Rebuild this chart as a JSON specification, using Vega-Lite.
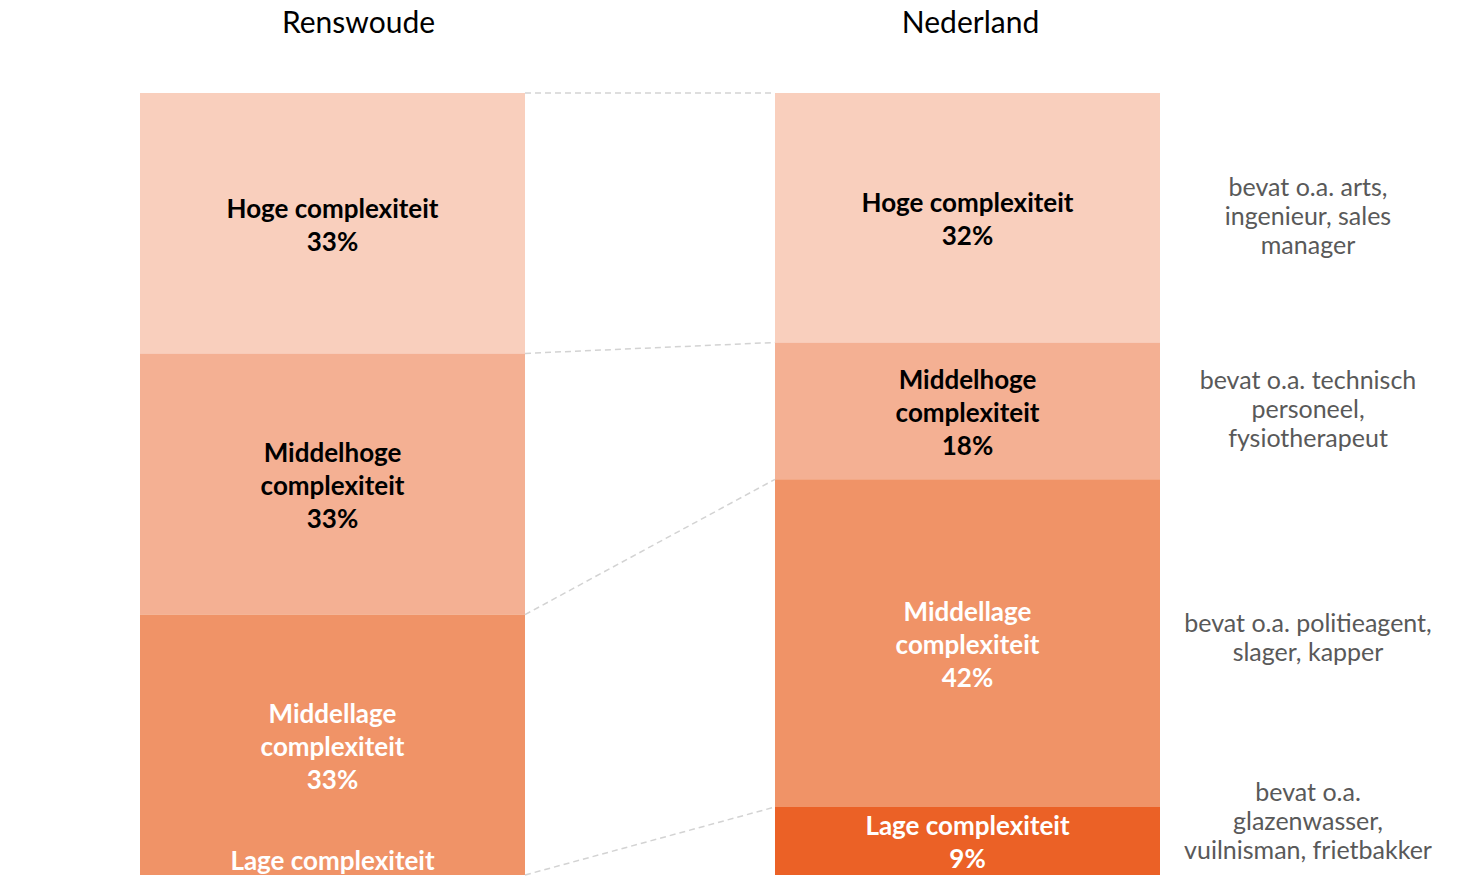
{
  "$schema": "https://vega.github.io/schema/vega-lite/v6.json",
  "autosize": {"type": "none"},
  "width": 1020,
  "height": 782,
  "padding": {"left": 140, "top": 93, "right": 298, "bottom": 1},
  "background": "white",
  "config": {"view": {"stroke": null}, "font": "Lato"},
  "datasets": {
    "grenzen": [
      {"grens": "boven", "Renswoude": 100, "Nederland": 100},
      {"grens": "Hoge/Middelhoge", "Renswoude": 66.7, "Nederland": 68.1},
      {"grens": "Middelhoge/Middellage", "Renswoude": 33.3, "Nederland": 50.6},
      {"grens": "Middellage/Lage", "Renswoude": 0, "Nederland": 8.7}
    ]
  },
  "data": {
    "values": [
      {"gebied": "Renswoude", "categorie": "Hoge complexiteit", "volgorde": 4, "aandeel": 33.3, "label": ["Hoge complexiteit", "33%"]},
      {"gebied": "Renswoude", "categorie": "Middelhoge complexiteit", "volgorde": 3, "aandeel": 33.4, "label": ["Middelhoge", "complexiteit", "33%"]},
      {"gebied": "Renswoude", "categorie": "Middellage complexiteit", "volgorde": 2, "aandeel": 33.3, "label": ["Middellage", "complexiteit", "33%"]},
      {"gebied": "Renswoude", "categorie": "Lage complexiteit", "volgorde": 1, "aandeel": 0, "label": ["Lage complexiteit", "0%"]},
      {"gebied": "Nederland", "categorie": "Hoge complexiteit", "volgorde": 4, "aandeel": 31.9, "label": ["Hoge complexiteit", "32%"], "toelichting": ["bevat o.a. arts,", "ingenieur, sales", "manager"]},
      {"gebied": "Nederland", "categorie": "Middelhoge complexiteit", "volgorde": 3, "aandeel": 17.5, "label": ["Middelhoge", "complexiteit", "18%"], "toelichting": ["bevat o.a. technisch", "personeel,", "fysiotherapeut"]},
      {"gebied": "Nederland", "categorie": "Middellage complexiteit", "volgorde": 2, "aandeel": 41.9, "label": ["Middellage", "complexiteit", "42%"], "toelichting": ["bevat o.a. politieagent,", "slager, kapper"]},
      {"gebied": "Nederland", "categorie": "Lage complexiteit", "volgorde": 1, "aandeel": 8.7, "label": ["Lage complexiteit", "9%"], "toelichting": ["bevat o.a.", "glazenwasser,", "vuilnisman, frietbakker"]}
    ]
  },
  "layer": [
    {
      "mark": {"type": "bar", "width": {"band": 1}},
      "encoding": {
        "x": {
          "field": "gebied",
          "type": "nominal",
          "scale": {"type": "band", "domain": ["Renswoude", "Nederland"], "paddingInner": 0.3937, "paddingOuter": 0},
          "axis": {
            "orient": "top", "title": null, "domain": false, "ticks": false,
            "labelFontSize": 30, "labelColor": "#000000", "labelPadding": 61,
            "labelBaseline": "alphabetic", "labelAngle": 0, "labelFont": "Lato",
            "labelOffset": {"condition": {"test": "datum.value === 'Renswoude'", "value": 26}, "value": 3}
          }
        },
        "y": {
          "field": "aandeel",
          "type": "quantitative",
          "stack": "zero",
          "scale": {"domain": [0, 100], "nice": false, "zero": true},
          "axis": null
        },
        "order": {"field": "volgorde", "type": "quantitative", "sort": "ascending"},
        "color": {
          "field": "categorie",
          "type": "nominal",
          "scale": {
            "domain": ["Hoge complexiteit", "Middelhoge complexiteit", "Middellage complexiteit", "Lage complexiteit"],
            "range": ["#F9CFBD", "#F4B093", "#F09367", "#EB6126"]
          },
          "legend": null
        }
      }
    },
    {
      "data": {"name": "grenzen"},
      "mark": {"type": "rule", "color": "#D3D3D3", "strokeWidth": 1.5, "strokeDash": [6, 4]},
      "encoding": {
        "x": {"datum": "Renswoude", "type": "nominal", "bandPosition": 1},
        "x2": {"datum": "Nederland", "bandPosition": 0},
        "y": {"field": "Renswoude", "type": "quantitative"},
        "y2": {"field": "Nederland"}
      }
    },
    {
      "mark": {"type": "text", "align": "center", "baseline": "middle", "dy": -13.5, "fontSize": 26, "fontWeight": "bold", "lineHeight": 33, "font": "Lato"},
      "encoding": {
        "x": {"field": "gebied", "type": "nominal"},
        "y": {"field": "aandeel", "type": "quantitative", "stack": "zero", "bandPosition": 0.5},
        "order": {"field": "volgorde", "type": "quantitative", "sort": "ascending"},
        "detail": {"field": "categorie"},
        "text": {"condition": {"test": "length(datum.label) === 2", "field": "label"}, "value": ""},
        "color": {"condition": {"test": "datum.volgorde <= 2", "value": "#FFFFFF"}, "value": "#000000"}
      }
    },
    {
      "mark": {"type": "text", "align": "center", "baseline": "middle", "dy": -30, "fontSize": 26, "fontWeight": "bold", "lineHeight": 33, "font": "Lato"},
      "encoding": {
        "x": {"field": "gebied", "type": "nominal"},
        "y": {"field": "aandeel", "type": "quantitative", "stack": "zero", "bandPosition": 0.5},
        "order": {"field": "volgorde", "type": "quantitative", "sort": "ascending"},
        "detail": {"field": "categorie"},
        "text": {"condition": {"test": "length(datum.label) === 3", "field": "label"}, "value": ""},
        "color": {"condition": {"test": "datum.volgorde <= 2", "value": "#FFFFFF"}, "value": "#000000"}
      }
    },
    {
      "mark": {"type": "text", "align": "center", "baseline": "middle", "dx": 148, "dy": -30, "fontSize": 25, "lineHeight": 29, "color": "#595959", "font": "Lato"},
      "encoding": {
        "x": {"field": "gebied", "type": "nominal", "bandPosition": 1},
        "y": {"field": "aandeel", "type": "quantitative", "stack": "zero", "bandPosition": 0.5},
        "order": {"field": "volgorde", "type": "quantitative", "sort": "ascending"},
        "detail": {"field": "categorie"},
        "text": {"condition": {"test": "datum.gebied === 'Nederland' && datum.volgorde >= 3", "field": "toelichting"}, "value": ""}
      }
    },
    {
      "mark": {"type": "text", "align": "center", "baseline": "middle", "dx": 148, "dy": -19.5, "fontSize": 25, "lineHeight": 29, "color": "#595959", "font": "Lato"},
      "encoding": {
        "x": {"field": "gebied", "type": "nominal", "bandPosition": 1},
        "y": {"field": "aandeel", "type": "quantitative", "stack": "zero", "bandPosition": 0.5},
        "order": {"field": "volgorde", "type": "quantitative", "sort": "ascending"},
        "detail": {"field": "categorie"},
        "text": {"condition": {"test": "datum.gebied === 'Nederland' && datum.volgorde === 2", "field": "toelichting"}, "value": ""}
      }
    },
    {
      "mark": {"type": "text", "align": "center", "baseline": "middle", "dx": 148, "dy": -48, "fontSize": 25, "lineHeight": 29, "color": "#595959", "font": "Lato"},
      "encoding": {
        "x": {"field": "gebied", "type": "nominal", "bandPosition": 1},
        "y": {"field": "aandeel", "type": "quantitative", "stack": "zero", "bandPosition": 0.5},
        "order": {"field": "volgorde", "type": "quantitative", "sort": "ascending"},
        "detail": {"field": "categorie"},
        "text": {"condition": {"test": "datum.gebied === 'Nederland' && datum.volgorde === 1", "field": "toelichting"}, "value": ""}
      }
    }
  ]
}
